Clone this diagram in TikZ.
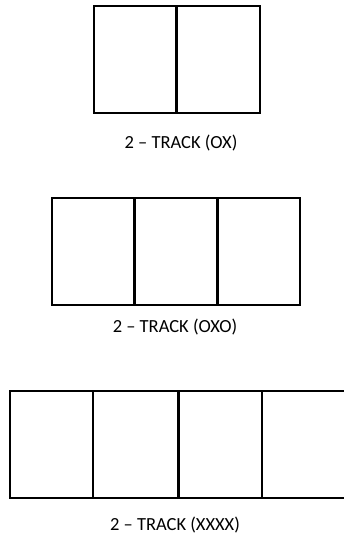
\documentclass[tikz,border=0pt]{standalone}
\usepackage{fontspec}
\setmainfont{Carlito}
\begin{document}
\begin{tikzpicture}[x=1pt,y=-1pt,
  pane/.style={draw=black,line width=2pt,fill=white,inner sep=0pt,outer sep=0pt,minimum width=83pt,minimum height=107pt},
  caption/.style={font=\fontsize{18.5}{20}\selectfont,inner sep=0pt}]
\useasboundingbox (0,0) rectangle (344,540);
\clip (0,0) rectangle (344,540);
% top: OX
\node[pane] (a1) at (135.2,59.5) {};
\node[pane] (a2) at (218.3,59.5) {};
\draw[line width=3pt] (a1.north east) -- (a1.south east);
\node[caption] (ta) at (181,143) {2 – TRACK (OX)};
% middle: OXO
\node[pane] (b1) at (93,251.5) {};
\node[pane] (b2) at (176.3,251.5) {};
\node[pane] (b3) at (258.8,251.5) {};
\draw[line width=3pt] (b1.north east) -- (b1.south east);
\draw[line width=3pt] (b2.north east) -- (b2.south east);
\node[caption] (tb) at (175,327) {2 – TRACK (OXO)};
% bottom: XXXX
\node[pane,minimum width=84pt] (c1) at (52,444) {};
\node[pane,minimum width=85pt] (c2) at (135.5,444) {};
\node[pane,minimum width=84pt] (c3) at (220,444) {};
\draw[line width=3pt] (c2.north east) -- (c2.south east);
\coordinate (c4ne) at (350,390.5);
\coordinate (c4se) at (350,497.5);
\draw[line width=2pt] (c4ne) -- (c3.north east) -- (c3.south east) -- (c4se);
\node[caption] (tc) at (175,525) {2 – TRACK (XXXX)};
\end{tikzpicture}
\end{document}
